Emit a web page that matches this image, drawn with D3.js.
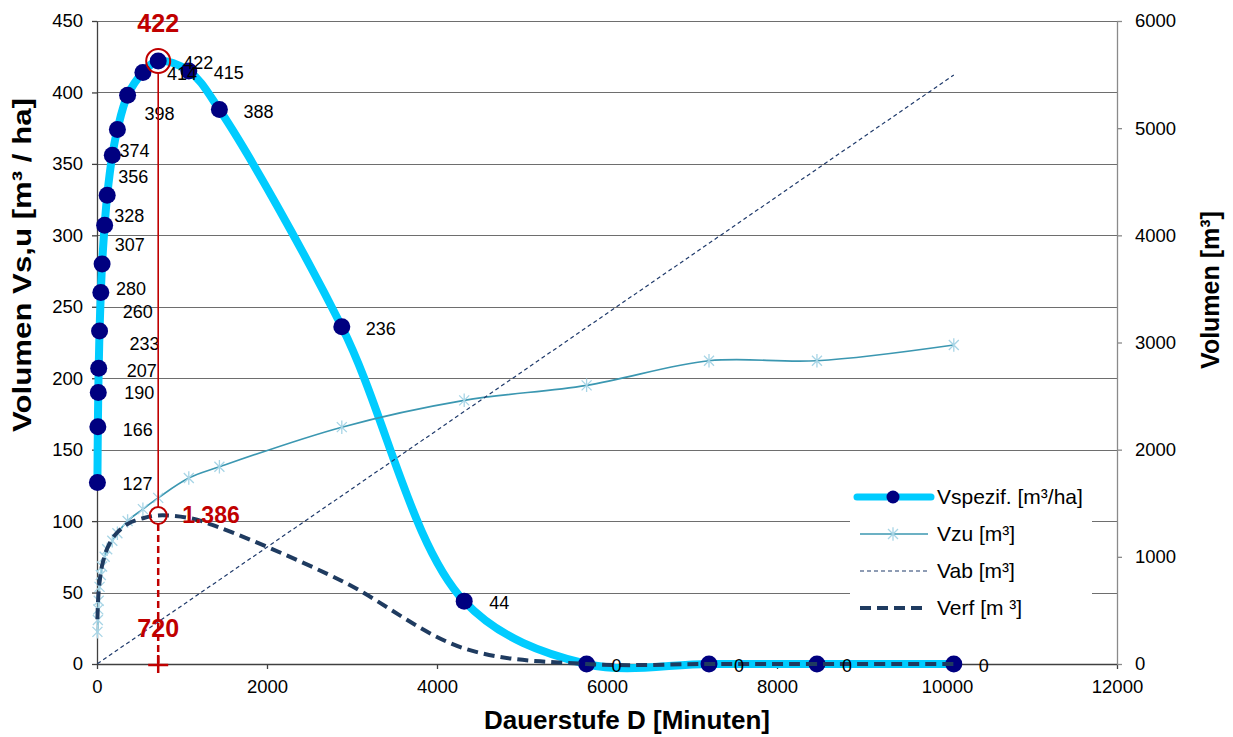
<!DOCTYPE html>
<html><head><meta charset="utf-8">
<script src="https://cdn.jsdelivr.net/npm/d3@7"></script>
<style>
body{margin:0;background:#fff}
svg{display:block}
text{font-family:Arial,"Liberation Sans",sans-serif}
</style>
</head><body>
<svg id="c" width="1233" height="737"></svg>
<script>
// ---------- data ----------
const durations = [5,10,15,20,30,45,60,90,120,180,240,360,540,720,1080,1440,2880,4320,5760,7200,8470,10080];
const vSpezif  = [127,166,190,207,233,260,280,307,328,356,374,398,414,422,415,388,236,44,0,0,0,0];
const vZu      = [300,410,510,590,720,830,910,1000,1070,1150,1220,1335,1445,1550,1735,1840,2210,2460,2600,2830,2830,2977];
const vAb      = [3,5,8,11,16,25,33,49,65,98,131,196,294,393,589,785,1570,2356,3141,3926,4619,5496];
const vErf     = [417,545,624,680,765,854,920,1008,1077,1169,1228,1307,1360,1386,1363,1274,775,145,0,0,0,0];
const xTicks   = [0,2000,4000,6000,8000,10000,12000];
const yLTicks  = [0,50,100,150,200,250,300,350,400,450];
const yRTicks  = [0,1000,2000,3000,4000,5000,6000];
const seriesNames = ["Vspezif. [m³/ha]","Vzu [m³]","Vab [m³]","Verf [m ³]"];
const xTitle = "Dauerstufe D [Minuten]";
const yLTitle = "Volumen Vs,u [m³ / ha]";
const yRTitle = "Volumen [m³]";
// label placement nudges (pixels, relative to point)
const labelDx = [25,25,26,28,30,22,14,10,7,6,2,17,24,25,25,24,24,25,25,25,25,25];
const labelDy = [1,2.5,0,2,13,19.5,25,19,20.5,21.5,21,18,1.5,2,1.5,2.5,1.5,1.5,1.5,1.5,1.5,1.5];

// ---------- layout ----------
const M = {l:97, r:1117, t:21, b:664};
const svg = d3.select("#c");
const x  = d3.scaleLinear().domain([0,12000]).range([M.l,M.r]);
const yL = d3.scaleLinear().domain([0,450]).range([M.b,M.t]);
const yR = d3.scaleLinear().domain([0,6000]).range([M.b,M.t]);
const RED = "#C00000";
const de = d3.formatLocale({decimal:",",thousands:".",grouping:[3],currency:["","€"]});

// gridlines
svg.append("g").selectAll("line").data(yLTicks.filter(d=>d>0)).join("line")
  .attr("x1",M.l).attr("x2",M.r)
  .attr("y1",d=>Math.round(yL(d))+0.5).attr("y2",d=>Math.round(yL(d))+0.5)
  .attr("stroke","#6e6e6e").attr("stroke-width",1.2);

// axes
function styleAxis(g, color, fs){
  g.select(".domain").attr("stroke",color).attr("stroke-width",1.3);
  g.selectAll(".tick line").attr("stroke",color).attr("stroke-width",1.3);
  g.selectAll(".tick text").attr("fill","#000").style("font-size",fs+"px").style("font-family","Arial, 'Liberation Sans', sans-serif");
}
const gx = svg.append("g").attr("transform",`translate(0,${M.b})`)
  .call(d3.axisBottom(x).tickValues(xTicks).tickSize(5).tickPadding(11).tickSizeOuter(0).tickFormat(d3.format("d")));
styleAxis(gx,"#404040",18.5);
const gl = svg.append("g").attr("transform",`translate(${M.l},0)`)
  .call(d3.axisLeft(yL).tickValues(yLTicks).tickSize(5).tickPadding(9).tickSizeOuter(0).tickFormat(d3.format("d")));
styleAxis(gl,"#404040",18.5);
const gr = svg.append("g").attr("transform",`translate(${M.r},0)`)
  .call(d3.axisRight(yR).tickValues(yRTicks).tickSize(5).tickPadding(13).tickSizeOuter(0).tickFormat(d3.format("d")));
styleAxis(gr,"#8a8a8a",18.5);

// titles
svg.append("text").attr("x",627).attr("y",729).attr("text-anchor","middle")
  .style("font-size","26px").style("font-weight","bold").text(xTitle);
svg.append("text").attr("transform","translate(31,265) rotate(-90)").attr("text-anchor","middle")
  .attr("textLength",334).attr("lengthAdjust","spacingAndGlyphs")
  .style("font-size","26px").style("font-weight","bold").text(yLTitle);
svg.append("text").attr("transform","translate(1219,290) rotate(-90)").attr("text-anchor","middle")
  .style("font-size","25px").style("font-weight","bold").text(yRTitle);

// ---------- series ----------
const curve = d3.curveCatmullRom.alpha(0.5);
const idx = d3.range(durations.length);
const lineL = arr => d3.line().x(i=>x(durations[i])).y(i=>yL(arr[i])).curve(curve)(idx);
const lineR = arr => d3.line().x(i=>x(durations[i])).y(i=>yR(arr[i])).curve(curve)(idx);

// Vspezif
svg.append("path").attr("d",lineL(vSpezif)).attr("fill","none")
  .attr("stroke","#00CCFF").attr("stroke-width",8).attr("stroke-linejoin","round");
svg.append("g").selectAll("circle").data(idx).join("circle")
  .attr("cx",i=>x(durations[i])).attr("cy",i=>yL(vSpezif[i])).attr("r",8.5).attr("fill","#000080");

// Vzu
svg.append("path").attr("d",lineR(vZu)).attr("fill","none")
  .attr("stroke","#3B97B1").attr("stroke-width",1.6);
const star = s => `M${-s},${-s}L${s},${s}M${-s},${s}L${s},${-s}M0,${-s*1.35}L0,${s*1.35}`;
svg.append("g").selectAll("path").data(idx).join("path")
  .attr("transform",i=>`translate(${x(durations[i])},${yR(vZu[i])})`)
  .attr("d",star(5)).attr("stroke","#A8D5E6").attr("stroke-width",1.3).attr("fill","none");

// Vab
svg.append("path").attr("d",d3.line().x(i=>x(durations[i])).y(i=>yR(vAb[i]))(idx)).attr("fill","none")
  .attr("stroke","#1F3A6B").attr("stroke-width",1.2).attr("stroke-dasharray","4,3");

// Verf
svg.append("path").attr("d",lineR(vErf)).attr("fill","none")
  .attr("stroke","#1F3B60").attr("stroke-width",4).attr("stroke-dasharray","11,6");

// data labels
svg.append("g").selectAll("text").data(idx).join("text")
  .attr("x",i=>x(durations[i])+labelDx[i]).attr("y",i=>yL(vSpezif[i])+labelDy[i])
  .attr("dy","0.35em").style("font-size","18px").attr("fill","#000").text(i=>vSpezif[i]);

// ---------- legend ----------
const lg = svg.append("g");
lg.append("rect").attr("x",850).attr("y",478).attr("width",242).attr("height",144).attr("fill","#fff");
const ly = [497,534,571,608];
lg.append("line").attr("x1",857).attr("x2",931).attr("y1",ly[0]).attr("y2",ly[0])
  .attr("stroke","#00CCFF").attr("stroke-width",7).attr("stroke-linecap","round");
lg.append("circle").attr("cx",893).attr("cy",ly[0]).attr("r",6.5).attr("fill","#000080");
lg.append("line").attr("x1",860).attr("x2",928).attr("y1",ly[1]).attr("y2",ly[1])
  .attr("stroke","#3B97B1").attr("stroke-width",1.6);
lg.append("path").attr("transform",`translate(893,${ly[1]})`).attr("d",star(5))
  .attr("stroke","#A8D5E6").attr("stroke-width",1.3).attr("fill","none");
lg.append("line").attr("x1",860).attr("x2",928).attr("y1",ly[2]).attr("y2",ly[2])
  .attr("stroke","#1F3A6B").attr("stroke-width",1.2).attr("stroke-dasharray","4,3");
lg.append("line").attr("x1",860).attr("x2",928).attr("y1",ly[3]).attr("y2",ly[3])
  .attr("stroke","#1F3B60").attr("stroke-width",4).attr("stroke-dasharray","11,6");
lg.selectAll("text.lt").data(seriesNames).join("text").attr("class","lt")
  .attr("x",937).attr("y",(d,i)=>ly[i]).attr("dy","0.35em").style("font-size","21px").text(d=>d);

// ---------- annotations ----------
const pk = d3.maxIndex(vSpezif);
const px = x(durations[pk]), pyS = yL(vSpezif[pk]), pyE = yR(vErf[pk]);
const an = svg.append("g");
an.append("line").attr("x1",px).attr("x2",px).attr("y1",pyS+12).attr("y2",pyE-8.5)
  .attr("stroke",RED).attr("stroke-width",1.6);
an.append("line").attr("x1",px).attr("x2",px).attr("y1",pyE+8.5).attr("y2",M.b)
  .attr("stroke",RED).attr("stroke-width",2.5).attr("stroke-dasharray","7,4");
an.append("circle").attr("cx",px).attr("cy",pyS).attr("r",12).attr("fill","none").attr("stroke",RED).attr("stroke-width",2);
an.append("circle").attr("cx",px).attr("cy",pyE).attr("r",8.5).attr("fill","none").attr("stroke",RED).attr("stroke-width",2);
an.append("line").attr("x1",px-10).attr("x2",px+10).attr("y1",M.b+1).attr("y2",M.b+1).attr("stroke",RED).attr("stroke-width",2.5);
an.append("line").attr("x1",px).attr("x2",px).attr("y1",M.b-9).attr("y2",M.b+9).attr("stroke",RED).attr("stroke-width",2.5);
an.append("text").attr("x",px).attr("y",pyS-29).attr("text-anchor","middle")
  .style("font-size","25px").style("font-weight","bold").attr("fill",RED).text(vSpezif[pk]);
an.append("text").attr("x",px).attr("y",M.b-27).attr("text-anchor","middle")
  .style("font-size","25px").style("font-weight","bold").attr("fill",RED).text(durations[pk]);
an.append("text").attr("x",px+24).attr("y",pyE+8).attr("text-anchor","start")
  .style("font-size","23px").style("font-weight","bold").attr("fill",RED).text(de.format(",d")(vErf[pk]));
</script>
</body></html>
